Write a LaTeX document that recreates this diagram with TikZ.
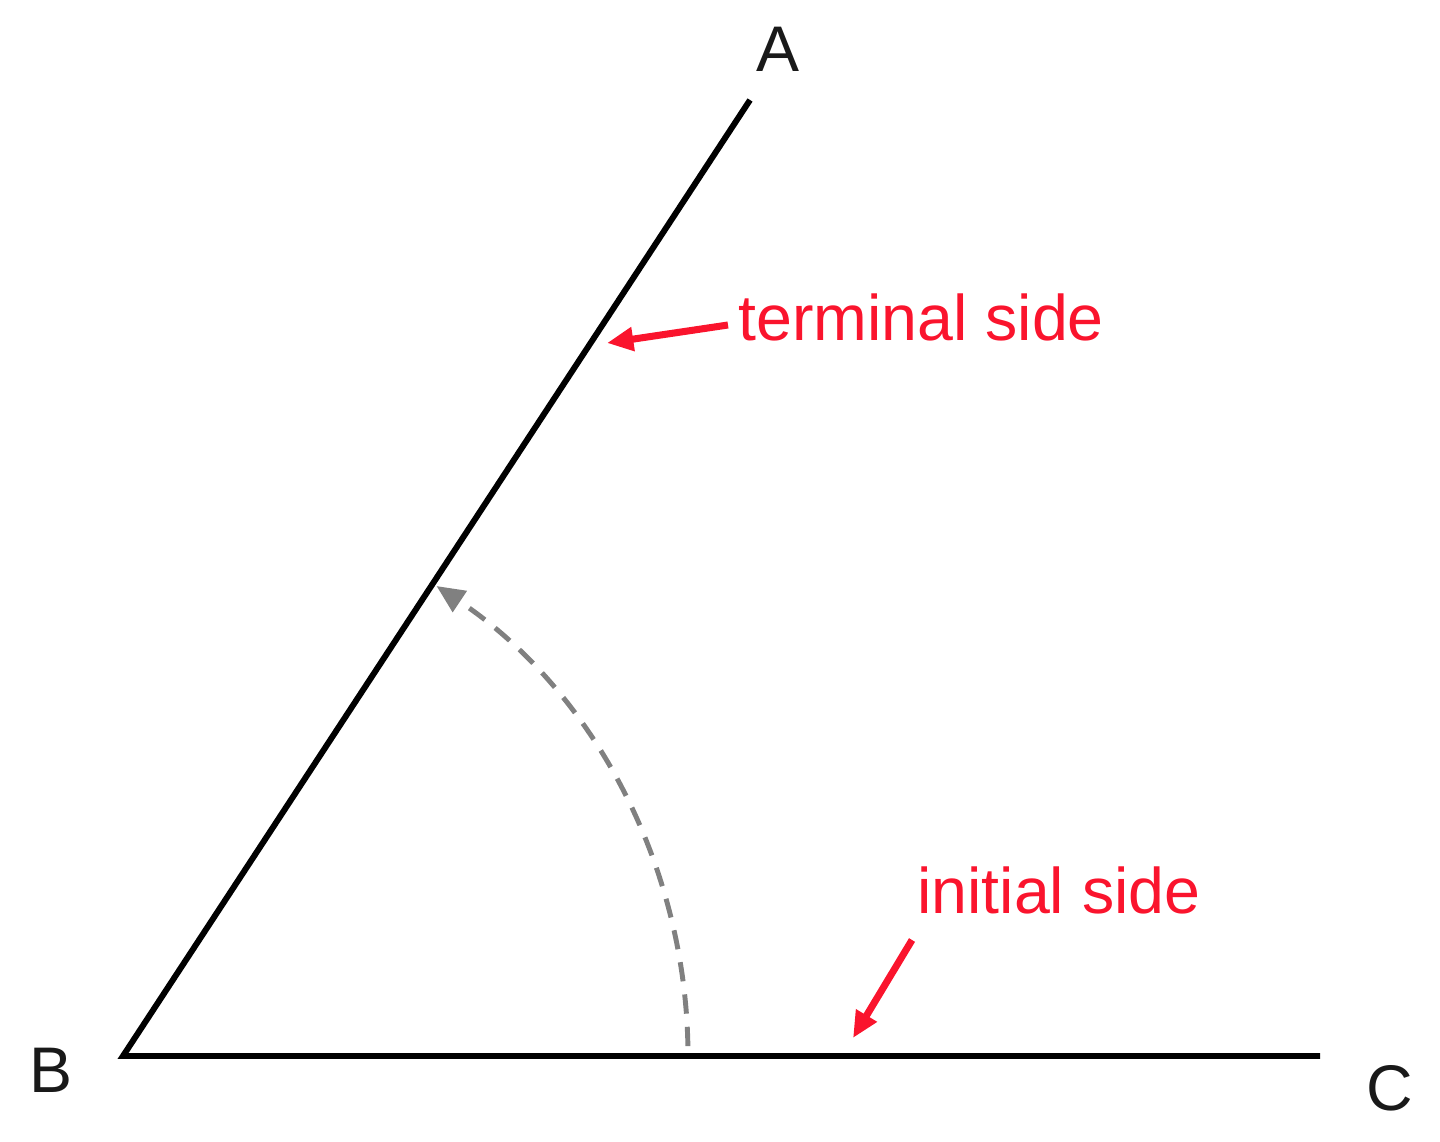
\documentclass[tikz,border=0pt]{standalone}
\usepackage{fontspec}
\setmainfont{Liberation Sans}
\usetikzlibrary{arrows.meta}
\definecolor{lblred}{RGB}{250,20,45}
\definecolor{arcgray}{RGB}{128,128,128}
\definecolor{lblblack}{RGB}{25,25,25}
\begin{document}
\begin{tikzpicture}[x=0.02cm,y=-0.02cm,
  side/.style={line width=3.4pt, line join=miter, black},
  lbl/.style={font=\fontsize{36.7pt}{44pt}\selectfont, inner sep=0pt, anchor=base, text=lblblack},
  redlbl/.style={lbl, text=lblred, anchor=base west},
  pointer/.style={line width=4pt, lblred, -{Triangle[length=15pt,width=13pt]}},
  sweep/.style={line width=2.8pt, arcgray, dash pattern=on 11pt off 7.5pt, -{Triangle[length=16pt,width=14pt]}}]
\useasboundingbox (0,0) rectangle (1440,1142);
% vertices
\coordinate (B) at (123,1056);
\coordinate (A) at (750,100);
\coordinate (C) at (1320,1056);
% sides
\draw[side] (A) -- (B) -- (C);
% vertex labels
\node[lbl] (lA) at (778,72) {A};
\node[lbl] (lB) at (51,1092) {B};
\node[lbl] (lC) at (1390,1110) {C};
% rotation arc
\coordinate (S) at (687.9,1046.1);
\draw[sweep] (S) arc[start angle=1, end angle=56.3, radius=11.3cm];
% side labels
\node[redlbl] (term) at (738,340) {terminal side};
\node[redlbl] (init) at (917,913) {initial side};
\coordinate (tA) at (728,325);
\coordinate (tT) at (607,343);
\coordinate (iA) at (912,940);
\coordinate (iT) at (853,1038);
\draw[pointer] (tA) -- (tT);
\draw[pointer] (iA) -- (iT);
\end{tikzpicture}
\end{document}
